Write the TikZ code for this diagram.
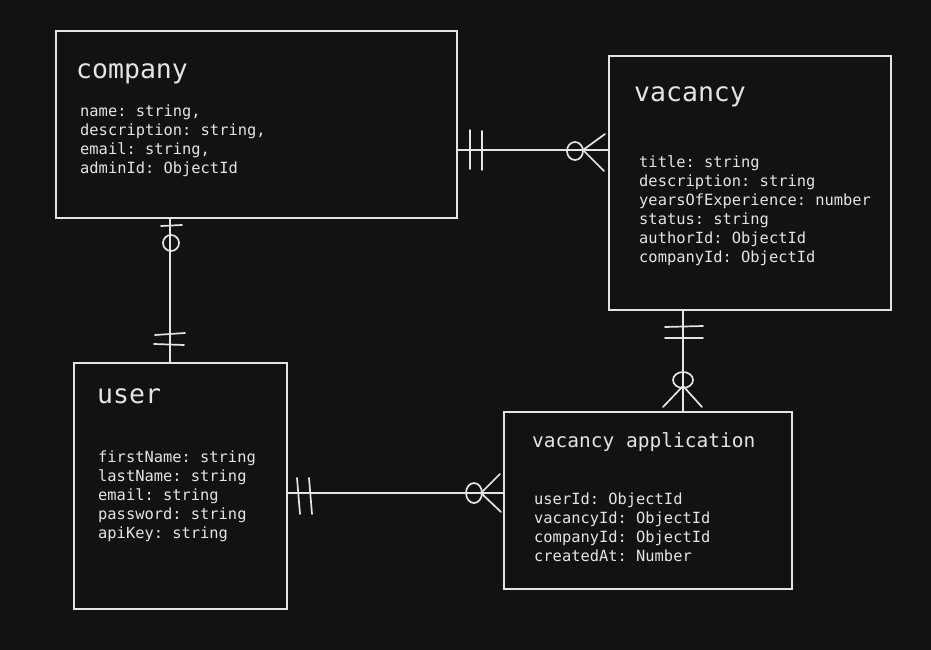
\documentclass[tikz,border=0pt]{standalone}
\usepackage{fontspec}
\setmonofont{DejaVu Sans Mono}
\usetikzlibrary{calc,backgrounds}

\definecolor{bgdark}{HTML}{121212}
\definecolor{inkwhite}{HTML}{E4E4E4}

\tikzset{
	entity/.style={draw=inkwhite, line width=1.9pt, inner sep=0pt, anchor=north west},
	title/.style={text=inkwhite, inner sep=0pt, anchor=base west, font=\ttfamily\fontsize{26.5}{30}\selectfont},
	subtitle/.style={text=inkwhite, inner sep=0pt, anchor=base west, font=\ttfamily\fontsize{19.5}{23}\selectfont},
	attrs/.style={text=inkwhite, inner sep=0pt, anchor=base west, align=left, font=\ttfamily\fontsize{15.4}{19}\selectfont},
	link/.style={draw=inkwhite, line width=1.7pt, line cap=round}
}

\begin{document}
\begin{tikzpicture}[x=1pt,y=-1pt]
	\fill[bgdark] (0,0) rectangle (931,650);
	\useasboundingbox (0,0) rectangle (931,650);
	
	% boxes
	\node[entity, minimum width=401pt, minimum height=187pt] (company) at (55,30) {};
	\node[entity, minimum width=282pt, minimum height=254pt] (vacancy) at (608,55) {};
	\node[entity, minimum width=213pt, minimum height=246pt] (user) at (73,362) {};
	\node[entity, minimum width=288pt, minimum height=177pt] (application) at (503,411) {};
	
	% titles
	\node[title] (company-title) at (76,79) {company};
	\node[title] (vacancy-title) at (634,102) {vacancy};
	\node[title] (user-title) at (97,403) {user};
	\node[subtitle] (application-title) at (532,447) {vacancy application};
	
	% fields (anchored on the baseline of the last line)
	\node[attrs] (company-attrs) at (80,173) {name: string,\\description: string,\\email: string,\\adminId: ObjectId};
	\node[attrs] (vacancy-attrs) at (639,262) {title: string\\description: string\\yearsOfExperience: number\\status: string\\authorId: ObjectId\\companyId: ObjectId};
	\node[attrs] (user-attrs) at (98,538) {firstName: string\\lastName: string\\email: string\\password: string\\apiKey: string};
	\node[attrs] (application-attrs) at (534,561) {userId: ObjectId\\vacancyId: ObjectId\\companyId: ObjectId\\createdAt: Number};
	
	% company -- vacancy
	\coordinate (cv) at (0,150);
	\draw[link] (company.east |- cv) -- (vacancy.west |- cv);
	\draw[link] (470,130) -- (470,169);
	\draw[link] (482,131) -- (482,170);
	\draw[link] (575,151) ellipse (8 and 9);
	\draw[link] (605,134) -- (583,150) -- (604,171);
	
	% company -- user
	\coordinate (cu) at (170,0);
	\draw[link] (company.south -| cu) -- (user.north -| cu);
	\draw[link] (161,226) -- (182,225);
	\draw[link] (171,243) ellipse (8 and 8);
	\draw[link] (155,335) -- (185,333);
	\draw[link] (154,344) -- (184,345);
	
	% vacancy -- application
	\coordinate (va) at (683,0);
	\draw[link] (vacancy.south -| va) -- (application.north -| va);
	\draw[link] (665,327) -- (703,326);
	\draw[link] (665,338) -- (703,338);
	\draw[link] (683,380) ellipse (10 and 8);
	\draw[link] (663,407) -- (683,386) -- (702,407);
	
	% user -- application
	\coordinate (ua) at (0,493);
	\draw[link] (user.east |- ua) -- (application.west |- ua);
	\draw[link] (297,478) -- (300,514);
	\draw[link] (309,478) -- (312,514);
	\draw[link] (474,493) ellipse (8 and 10);
	\draw[link] (500,474) -- (481,493) -- (501,512);
\end{tikzpicture}
\end{document}
